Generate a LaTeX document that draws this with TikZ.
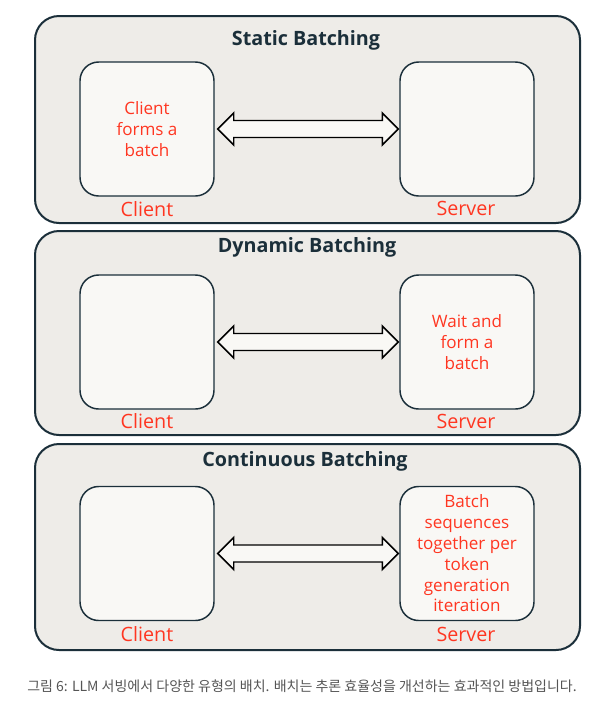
\documentclass[tikz,border=0pt]{standalone}
\usepackage{fontspec}
\setmainfont{Open Sans}
\newfontfamily\krfont{Noto Sans CJK KR}
\usepackage{tikz}
\usetikzlibrary{positioning, calc}
\definecolor{panelbg}{HTML}{EEECE8}
\definecolor{boxbg}{HTML}{F9F8F5}
\definecolor{navy}{HTML}{1B2F3A}
\definecolor{brandred}{HTML}{FF3621}
\definecolor{capgray}{HTML}{555555}

% fat two-headed arrow between two boxes
\newcommand{\fatarrow}[2]{%
  \draw[fatarrow] ($(#1.east)+(3,0)$) coordinate (#1l) -- ++(16,-16) -- ++(0,7.5)
    -- ($(#2.west)+(-17,-8.5)$) -- ++(0,-7.5) -- ($(#2.west)+(-1,0)$)
    -- ++(-16,16) -- ++(0,-7.5) -- ($(#1l)+(16,8.5)$) -- ++(0,7.5) -- cycle;}

\begin{document}
\begin{tikzpicture}[
    x=0.75pt, y=-0.75pt,
    panel/.style={rectangle, draw=navy, fill=panelbg, line width=1.5pt,
                  rounded corners=18pt, minimum width=408.75pt},
    box/.style={rectangle, draw=navy, fill=boxbg, line width=1.1pt,
                rounded corners=14pt, minimum width=100.5pt, minimum height=100.5pt,
                align=center, text=brandred, font=\fontsize{12.8}{15.6}\selectfont},
    title/.style={font=\fontsize{14.8}{17}\selectfont\bfseries, text=navy},
    tag/.style={font=\fontsize{14.8}{16}\selectfont, text=brandred, inner sep=0pt},
    fatarrow/.style={draw=black, fill=boxbg, line width=1.1pt, line join=miter}
]
    \useasboundingbox[fill=white] (0,0) rectangle (606,704);

    % static
    \node[panel, minimum height=155.25pt] (p1) at (307.5,119.5) {};
    \node[title] (t1) at (306,40) {Static Batching};
    \node[box] (c1) at (147,129) {Client\\forms a\\batch};
    \node[box] (s1) at (467,129) {};
    \node[tag] (cl1) at (147,209) {Client};
    \node[tag] (sl1) at (466,208) {Server};
    \fatarrow{c1}{s1}

    % dynamic
    \node[panel, minimum height=153pt] (p2) at (307.5,333) {};
    \node[title] (t2) at (307,247) {Dynamic Batching};
    \node[box] (c2) at (147,342) {};
    \node[box] (s2) at (467,342) {Wait and\\form a\\batch};
    \node[tag] (cl2) at (147,421) {Client};
    \node[tag] (sl2) at (466,421) {Server};
    \fatarrow{c2}{s2}

    % continuous
    \node[panel, minimum height=154.5pt] (p3) at (307.5,547) {};
    \node[title] (t3) at (305,461) {Continuous Batching};
    \node[box] (c3) at (147,553.5) {};
    \node[box] (s3) at (467,553.5) {Batch\\sequences\\together per\\token\\generation\\iteration};
    \node[tag] (cl3) at (147,634) {Client};
    \node[tag] (sl3) at (466,634) {Server};
    \fatarrow{c3}{s3}

    \node[font=\krfont\fontsize{10.5}{12}\selectfont, text=capgray] (cap) at (302,686)
        {그림 6: LLM 서빙에서 다양한 유형의 배치. 배치는 추론 효율성을 개선하는 효과적인 방법입니다.};
\end{tikzpicture}
\end{document}
